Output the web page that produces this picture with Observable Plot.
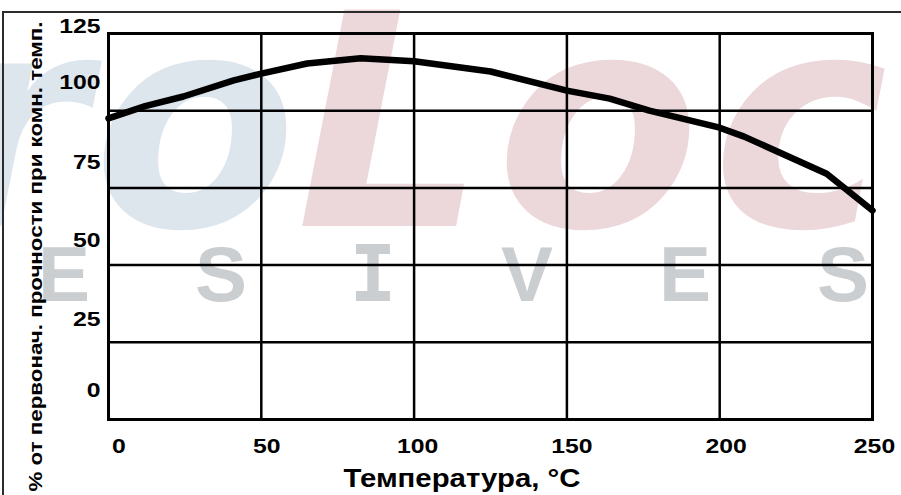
<!DOCTYPE html>
<html>
<head>
<meta charset="utf-8">
<script src="https://cdn.jsdelivr.net/npm/d3@7"></script>
<script src="https://cdn.jsdelivr.net/npm/@observablehq/plot@0.6"></script>
<style>
  html, body { margin: 0; padding: 0; background: #fff; }
  #wrap { position: relative; width: 901px; height: 495px; overflow: hidden; }
  #wm { position: absolute; left: 0; top: 0; }
  #border { position: absolute; left: 2px; top: 11px; width: 920px; height: 500px;
            border-left: 2px solid #2b2b2b; border-top: 2px solid #2b2b2b; }
  #chart { position: absolute; left: 0; top: 0; }
</style>
</head>
<body>
<div id="wrap">
  <svg id="wm" width="901" height="495"></svg>
  <div id="border"></div>
  <div id="chart"></div>
</div>
<script>
// ---- data ----
const temperature = [0, 12, 24.5, 41, 50, 65, 82.5, 100, 125, 150, 164, 177, 200, 208, 235, 250];
const strength    = [97.5, 101.5, 104.6, 109.8, 112, 115.3, 117, 116, 112.7, 106.5, 103.9, 100, 94.5, 91.6, 79.6, 67.7];
const xTicks = [0, 50, 100, 150, 200, 250];
const yTicks = [0, 25, 50, 75, 100, 125];
const xTitle = "Температура, °C";
const yTitle = "% от первонач. прочности при комн. темп.";
const watermarkBig = ["r", "o", "L", "o", "c"];
const watermarkSmall = ["E", "S", "I", "V", "E", "S"];

// ---- watermark (background decoration) ----
const wmBigStyle = { x: [-60, 93, 296, 496, 712],
  fill: ["#dde5ed", "#dde5ed", "#ecd8da", "#ecd8da", "#ecd8da"], baseline: 226 };
const wmSmallStyle = { x: [64, 221, 373, 527, 685, 843], baseline: 301,
  font: ["Liberation Sans", "Liberation Sans", "DejaVu Sans Mono", "Liberation Sans", "Liberation Sans", "Liberation Sans"] };
const wm = d3.select("#wm");
wm.selectAll("text.big").data(watermarkBig).join("text")
  .attr("class", "big")
  .attr("x", (d, i) => wmBigStyle.x[i])
  .attr("y", wmBigStyle.baseline)
  .attr("fill", (d, i) => wmBigStyle.fill[i])
  .attr("font-family", "DejaVu Sans, sans-serif")
  .attr("font-weight", "bold").attr("font-style", "oblique")
  .attr("font-size", 297)
  .text(d => d);
wm.selectAll("text.small").data(watermarkSmall).join("text")
  .attr("class", "small")
  .attr("x", (d, i) => wmSmallStyle.x[i])
  .attr("y", wmSmallStyle.baseline)
  .attr("text-anchor", "middle")
  .attr("fill", "#cbced1")
  .attr("font-family", (d, i) => wmSmallStyle.font[i])
  .attr("font-weight", "bold")
  .attr("font-size", 78)
  .text(d => d);

// ---- chart ----
const data = temperature.map((t, i) => ({ t, v: strength[i] }));
const xTickDx = [10.5, 5.5, 3.5, 5, 6.5, 2];
const yTickDy = [-29.5, -23, -25, -25.5, -28, -7];

const chart = Plot.plot({
  width: 901,
  height: 495,
  marginLeft: 108,
  marginRight: 29,
  marginTop: 33,
  marginBottom: 76,
  style: { background: "transparent", fontFamily: "Liberation Sans, Arial, sans-serif", color: "#000" },
  x: { domain: [0, 250], ticks: xTicks },
  y: { domain: [0, 125], ticks: yTicks },
  marks: [
    Plot.gridX(xTicks, { stroke: "#000", strokeOpacity: 1, strokeWidth: 2.5 }),
    Plot.gridY(yTicks, { stroke: "#000", strokeOpacity: 1, strokeWidth: 2.5 }),
    Plot.frame({ stroke: "#000", strokeWidth: 3 }),
    Plot.line(data, { x: "t", y: "v", stroke: "#000", strokeWidth: 6.5 }),
    ...xTicks.map((t, i) => Plot.axisX([t], {
      tickSize: 0, tickPadding: 19, fontSize: 21, fontWeight: "bold",
      dx: xTickDx[i], label: null
    })),
    ...yTicks.map((t, i) => Plot.axisY([t], {
      tickSize: 0, tickPadding: 8, fontSize: 21, fontWeight: "bold",
      dy: yTickDy[i], label: null
    })),
    Plot.axisX({
      ticks: [], tickSize: 0, label: xTitle, labelAnchor: "center", labelOffset: 67,
      labelArrow: false, fontSize: 25, fontWeight: "bold"
    }),
    Plot.axisY({
      ticks: [], tickSize: 0, label: yTitle, labelAnchor: "center", labelOffset: 80,
      labelArrow: false, fontSize: 19, fontWeight: "bold"
    })
  ]
});
document.getElementById("chart").appendChild(chart);

// horizontally expanded lettering, as in the reference
const titleFit = { [xTitle]: { length: 237, dx: -28.5, dy: 0 }, [yTitle]: { length: 470, dx: 0, dy: 30 } };
d3.select(chart).selectAll("text").each(function () {
  const txt = this.textContent;
  const L = this.getComputedTextLength();
  if (!(L > 0)) return;
  const fit = titleFit[txt];
  this.setAttribute("lengthAdjust", "spacingAndGlyphs");
  if (fit) {
    this.setAttribute("textLength", fit.length);
    this.setAttribute("transform", `translate(${fit.dx},${fit.dy}) ` + (this.getAttribute("transform") || ""));
  } else {
    this.setAttribute("textLength", L * 1.18);
  }
});
</script>
</body>
</html>
